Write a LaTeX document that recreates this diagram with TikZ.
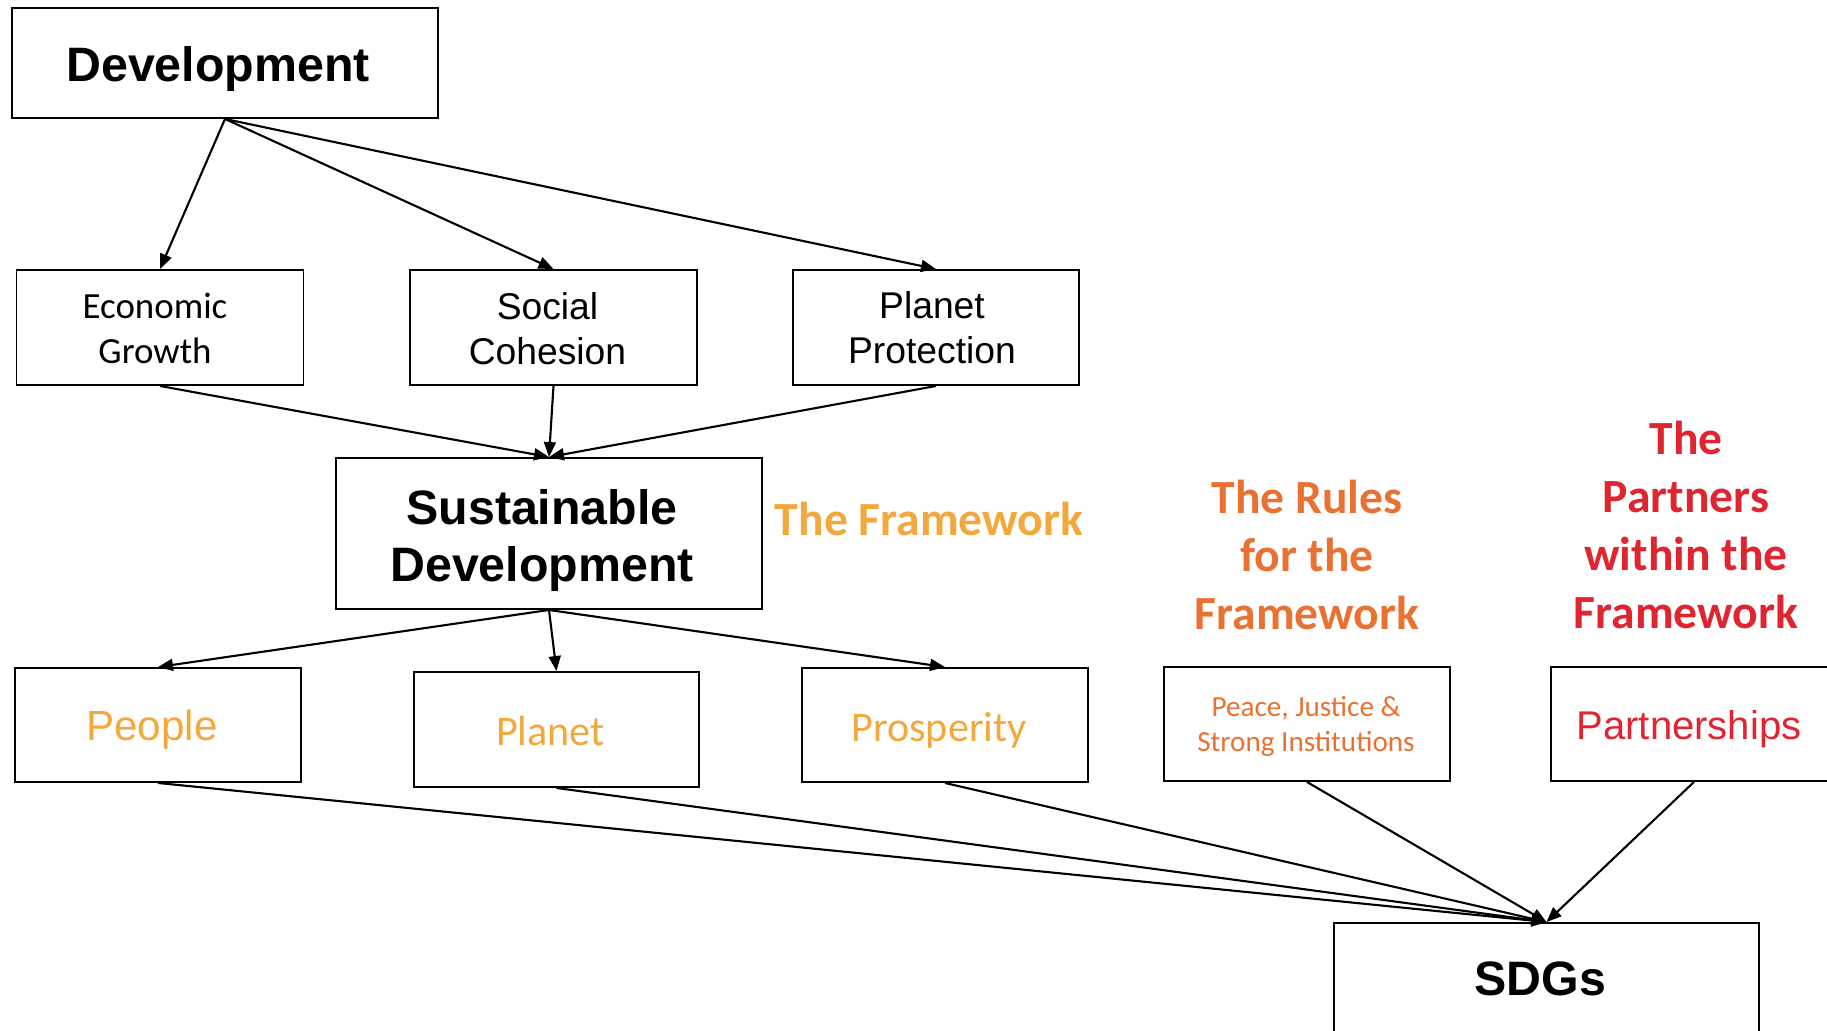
\documentclass[tikz,border=0pt]{standalone}
\usepackage{fontspec}
\setmainfont{Liberation Sans}
\newfontfamily\calibri{Carlito}
\usetikzlibrary{arrows.meta}
\definecolor{fwyellow}{HTML}{F2A83C}
\definecolor{fworange}{HTML}{E97132}
\definecolor{fwred}{HTML}{DE2530}
\tikzset{
  box/.style={draw=black, line width=1.1pt, fill=white, inner sep=0pt},
  txt/.style={inner sep=0pt, align=center},
  conn/.style={line width=1.2pt, -{Triangle[length=0.3cm, width=0.24cm]}},
}
\begin{document}
\begin{tikzpicture}[x=0.02cm, y=-0.02cm]
\useasboundingbox (0,0) rectangle (1827,1031);
\begin{scope}
\clip (0,0) rectangle (1827,1031);
% boxes
\node[box, minimum width=426*0.02cm, minimum height=110*0.02cm] (dev) at (225,63) {};
\node[box, minimum width=287*0.02cm, minimum height=115*0.02cm] (eg) at (160,327.5) {};
\node[box, minimum width=287*0.02cm, minimum height=115*0.02cm] (sc) at (553.5,327.5) {};
\node[box, minimum width=286*0.02cm, minimum height=115*0.02cm] (pp) at (936,327.5) {};
\node[box, minimum width=426*0.02cm, minimum height=151*0.02cm] (sd) at (549,533.5) {};
\node[box, minimum width=286*0.02cm, minimum height=114*0.02cm] (people) at (158,725) {};
\node[box, minimum width=285*0.02cm, minimum height=115*0.02cm] (planet) at (556.5,729.5) {};
\node[box, minimum width=286*0.02cm, minimum height=114*0.02cm] (prosp) at (945,725) {};
\node[box, minimum width=286*0.02cm, minimum height=114*0.02cm] (peace) at (1307,724) {};
\node[box, minimum width=286*0.02cm, minimum height=114*0.02cm] (partner) at (1694,724) {};
\node[box, minimum width=425*0.02cm, minimum height=112*0.02cm] (sdgs) at (1546.5,979) {};
% box texts
\node[txt, font=\bfseries\fontsize{27.5}{32}\selectfont] (devt) at ([shift={(-7,6)}]dev.center) {Development};
\node[txt, font=\calibri\fontsize{21}{25.8}\selectfont] (egt) at ([shift={(-5,1)}]eg.center) {Economic\\Growth};
\node[txt, font=\fontsize{21.2}{25.8}\selectfont] (sct) at ([shift={(-6,1)}]sc.center) {Social\\Cohesion};
\node[txt, font=\fontsize{21.2}{25.8}\selectfont] (ppt) at ([shift={(-4,0)}]pp.center) {Planet\\Protection};
\node[txt, font=\bfseries\fontsize{27.5}{32.4}\selectfont] (sdt) at ([shift={(-7,7)}]sd.center) {Sustainable\\Development};
\node[txt, font=\fontsize{24}{28}\selectfont, text=fwyellow] (peoplet) at ([shift={(-6,5)}]people.center) {People};
\node[txt, font=\calibri\fontsize{24}{28}\selectfont, text=fwyellow] (planett) at ([shift={(-6,2)}]planet.center) {Planet};
\node[txt, font=\calibri\fontsize{24}{28}\selectfont, text=fwyellow] (prospt) at ([shift={(-6,5)}]prosp.center) {Prosperity};
\node[txt, font=\calibri\fontsize{16.6}{19.9}\selectfont, text=fworange] (peacet) at ([shift={(-1,2)}]peace.center) {Peace, Justice \&\\Strong Institutions};
\node[txt, font=\fontsize{22.8}{27}\selectfont, text=fwred] (partnert) at ([shift={(-5,5)}]partner.center) {Partnerships};
\node[txt, font=\bfseries\fontsize{27.5}{32}\selectfont] (sdgst) at ([shift={(-6,0)}]sdgs.center) {SDGs};
% free labels
\node[txt, font=\calibri\bfseries\fontsize{27.1}{32.8}\selectfont, text=fwyellow] (fw) at (929,519) {The Framework};
\node[txt, font=\calibri\bfseries\fontsize{27.1}{32.8}\selectfont, text=fworange] (rules) at (1307,555) {The Rules\\for the\\Framework};
\node[txt, font=\calibri\bfseries\fontsize{27.1}{33}\selectfont, text=fwred] (partners) at (1686,525) {The\\Partners\\within the\\Framework};
% connectors
\draw[conn] (dev.south) -- (eg.north);
\draw[conn] (dev.south) -- (sc.north);
\draw[conn] (dev.south) -- (pp.north);
\draw[conn] (eg.south) -- (sd.north);
\draw[conn] (sc.south) -- (sd.north);
\draw[conn] (pp.south) -- (sd.north);
\draw[conn] (sd.south) -- (people.north);
\draw[conn] (sd.south) -- (planet.north);
\draw[conn] (sd.south) -- (prosp.north);
\draw[conn] (people.south) -- (sdgs.north);
\draw[conn] (planet.south) -- (sdgs.north);
\draw[conn] (prosp.south) -- (sdgs.north);
\draw[conn] (peace.south) -- (sdgs.north);
\draw[conn] (partner.south) -- (sdgs.north);
\end{scope}
\end{tikzpicture}
\end{document}
